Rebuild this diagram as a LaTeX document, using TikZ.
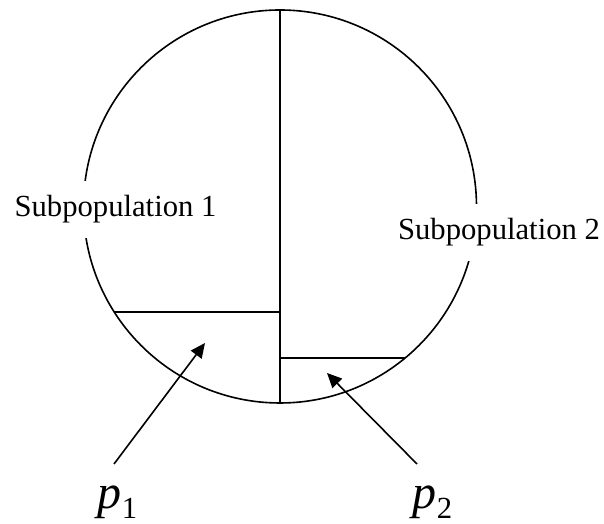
\documentclass[tikz,border=0pt]{standalone}
\usepackage{fontspec}
\setmainfont{Liberation Serif}
\usepackage{tikz}
\usetikzlibrary{arrows.meta,positioning,calc}
\tikzset{
  subpop/.style={fill=white, inner xsep=2pt, inner ysep=11pt, anchor=base,
                 font=\fontsize{23}{28}\selectfont},
  plabel/.style={inner sep=0pt, anchor=base west, font=\fontsize{36}{40}\selectfont\itshape},
  parrow/.style={-{Triangle[length=11pt, width=10pt]}, line width=1.2pt}
}
\newcommand{\psub}[1]{p\raisebox{-7.5pt}{\fontsize{23}{26}\selectfont\upshape #1}}

\begin{document}
\begin{tikzpicture}[x=0.75pt, y=0.75pt, line width=1.2pt]
\useasboundingbox (0,0) rectangle (604,524);
\coordinate (c) at (280,317.5);
\draw (c) circle (196.5);
% dividing lines
\draw ($(c)+(0,196.5)$) -- ($(c)+(0,-196.5)$);
\draw (114.2,212) -- (280,212);
\draw (280,166) -- (405.1,166);
\node[subpop] (sub1) at (115.5,307) {Subpopulation 1};
\node[subpop] (sub2) at (499,284) {Subpopulation 2};
\node[plabel] (p1) at (97,15) {\psub{1}};
\node[plabel] (p2) at (412,15) {\psub{2}};
\coordinate (s1) at (114,60);
\coordinate (t1) at (205,181);
\coordinate (s2) at (417,60);
\coordinate (t2) at (327,151);
\draw[parrow] (s1) -- (t1);
\draw[parrow] (s2) -- (t2);
\end{tikzpicture}
\end{document}
